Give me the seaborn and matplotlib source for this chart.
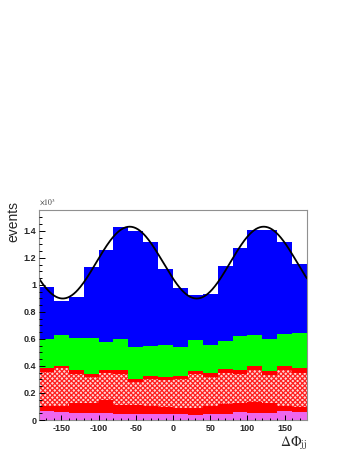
import numpy as np
import pandas as pd
import matplotlib
matplotlib.use('Agg')
import matplotlib.pyplot as plt
import seaborn as sns

# binning: 18 bins of 20 degrees over [-180, 180]
n_bins = 18
phi_range = (-180, 180)

# cumulative top of each layer per bin, in units of 10^3 events
magenta_top = [0.067, 0.062, 0.054, 0.050, 0.050, 0.042, 0.045, 0.046, 0.047,
               0.042, 0.037, 0.044, 0.046, 0.059, 0.054, 0.052, 0.067, 0.057]
red_low_top = [0.106, 0.104, 0.123, 0.123, 0.148, 0.109, 0.110, 0.104, 0.094,
               0.091, 0.086, 0.104, 0.116, 0.128, 0.136, 0.128, 0.104, 0.099]
checker_top = [0.358, 0.383, 0.340, 0.321, 0.346, 0.343, 0.284, 0.304, 0.296,
               0.301, 0.341, 0.316, 0.346, 0.341, 0.370, 0.336, 0.370, 0.346]
red_high_top = [0.383, 0.398, 0.370, 0.343, 0.373, 0.370, 0.306, 0.326, 0.320,
                0.326, 0.365, 0.346, 0.375, 0.370, 0.400, 0.363, 0.400, 0.385]
green_top = [0.598, 0.632, 0.610, 0.610, 0.575, 0.600, 0.543, 0.548, 0.558,
             0.543, 0.593, 0.556, 0.585, 0.622, 0.630, 0.598, 0.637, 0.642]
blue_top = [0.983, 0.880, 0.909, 1.136, 1.259, 1.432, 1.400, 1.321, 1.116,
            0.975, 0.926, 0.931, 1.141, 1.277, 1.407, 1.407, 1.321, 1.158]

layers = ['magenta', 'red_low', 'checker', 'red_high', 'green', 'blue']
colors = {'magenta': '#ee66ee', 'red_low': '#ff0000', 'checker': '#ffffff',
          'red_high': '#ff0000', 'green': '#00ff00', 'blue': '#0000ff'}

y_ticks = [0, 0.2, 0.4, 0.6, 0.8, 1.0, 1.2, 1.4]
x_ticks = [-150, -100, -50, 0, 50, 100, 150]

# per-layer contributions from the cumulative tops
tops = np.array([magenta_top, red_low_top, checker_top, red_high_top, green_top, blue_top])
heights = np.diff(np.vstack([np.zeros(n_bins), tops]), axis=0)
bin_edges = np.linspace(phi_range[0], phi_range[1], n_bins + 1)
centers = (bin_edges[:-1] + bin_edges[1:]) / 2

rows = []
for name, h in zip(layers, heights):
    for c, w in zip(centers, h):
        rows.append({'phi': c, 'w': w, 'layer': name})
df = pd.DataFrame(rows)

sns.set_style('white')
plt.rcParams['font.family'] = ['Liberation Sans', 'DejaVu Sans']
plt.rcParams['mathtext.fontset'] = 'stix'
plt.rcParams['hatch.linewidth'] = 0.9

fig = plt.figure(figsize=(3.49, 4.51), dpi=100)
ax = fig.add_axes([39 / 349, 31 / 451, 268 / 349, 210 / 451])

sns.histplot(data=df, x='phi', weights='w', hue='layer', hue_order=layers[::-1],
             multiple='stack', bins=n_bins, binrange=phi_range, palette=colors,
             alpha=1, linewidth=0, legend=False, ax=ax)

# checkered (hatched) red layer
for p in ax.patches:
    fc = p.get_facecolor()
    if fc[0] > 0.99 and fc[1] > 0.99 and fc[2] > 0.99:
        p.set_facecolor('#ffd6d6')
        p.set_hatch('xxxxxxx')
        p.set_edgecolor('#ff2020')
        p.set_linewidth(0)

# cos(2*phi) fit to the stacked totals
rad = np.deg2rad(centers)
A = np.column_stack([np.ones_like(rad), np.cos(2 * rad), np.sin(2 * rad)])
coef, *_ = np.linalg.lstsq(A, np.array(blue_top), rcond=None)
xf = np.linspace(-180, 180, 400)
rf = np.deg2rad(xf)
yf = coef[0] + coef[1] * np.cos(2 * rf) + coef[2] * np.sin(2 * rf)
sns.lineplot(x=xf, y=yf, color='black', linewidth=1.3, ax=ax)

ax.set_xlim(-180, 180)
ax.set_ylim(0, 1.555)
ax.set_xticks(x_ticks)
ax.set_xticks(np.arange(-170, 180, 10), minor=True)
ax.set_yticks(y_ticks)
ax.set_yticks(np.arange(0, 1.55, 0.05), minor=True)
ax.set_yticklabels(['%g' % v for v in y_ticks])
ax.set_xticklabels([str(v) for v in x_ticks])
ax.tick_params(axis='both', which='both', direction='in', color='black',
               labelsize=6.5, top=False, right=False, bottom=True, left=True)
ax.tick_params(axis='y', which='major', length=4.5, width=0.7, pad=2)
ax.tick_params(axis='y', which='minor', length=2.2, width=0.7)
ax.tick_params(axis='x', which='major', length=3.5, width=0.7, pad=3)
ax.tick_params(axis='x', which='minor', length=1.8, width=0.7)
for lab in ax.get_xticklabels() + ax.get_yticklabels():
    lab.set_fontweight('bold')
for s in ax.spines.values():
    s.set_color('#909090')
    s.set_linewidth(0.8)
ax.set_axisbelow(False)

ax.set_xlabel('')
ax.set_ylabel('')
fig.text(20 / 349, 1 - 201 / 451, 'events', rotation=90, ha='right', va='top',
         fontsize=10)
ax.text(0.0, 1.012, r'$\times10^{3}$', transform=ax.transAxes, ha='left',
        va='bottom', fontsize=5.5, color='#333333')
ax.text(1.0, -0.068, r'$\Delta\Phi_{\mathrm{jj}}$', transform=ax.transAxes,
        ha='right', va='top', fontsize=10)

fig.savefig('out.png', dpi=100)
